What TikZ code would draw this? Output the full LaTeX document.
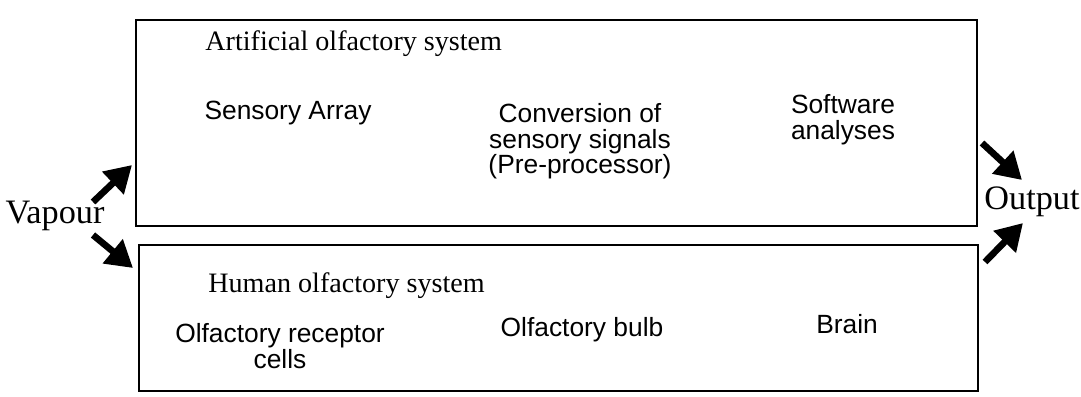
\documentclass[tikz,border=0pt]{standalone}
\usepackage{fontspec}
\setmainfont{Liberation Serif}
\newfontfamily\arialfont{Liberation Sans}
\usetikzlibrary{arrows.meta}

\begin{document}
\begin{tikzpicture}[x=0.02cm, y=-0.02cm,
    systitle/.style={anchor=base west, inner sep=0pt, font=\fontsize{16}{19}\selectfont},
    part/.style={anchor=north, inner sep=0pt, align=center, font=\arialfont\fontsize{15}{14.6}\selectfont},
    io/.style={inner sep=0pt, font=\fontsize{19.5}{22}\selectfont},
    sysbox/.style={draw, line width=1.3pt},
    fat/.style={line width=3.8pt, -{Triangle[length=15pt, width=17pt]}},
  ]
  \useasboundingbox (0,0) rectangle (1081,396);

  % the two systems
  \coordinate (artNW) at (136,20);
  \coordinate (artSE) at (977,226);
  \coordinate (humNW) at (139,245);
  \coordinate (humSE) at (978,391);
  \draw[sysbox] (artNW) rectangle (artSE);
  \draw[sysbox, line width=1.6pt] (humNW) rectangle (humSE);

  \node[systitle] (arttitle) at (205,50)  {Artificial olfactory system};
  \node[part] (sensor)  at (288,101) {Sensory Array};
  \node[part] (convert) at (580,103) {Conversion of\\sensory signals\\(Pre-processor)};
  \node[part] (soft)    at (843,94)  {Software\\analyses};

  \node[systitle] (humtitle) at (208,292) {Human olfactory system};
  \node[part] (receptor) at (280,323) {Olfactory receptor\\cells};
  \node[part] (bulb)     at (582,317) {Olfactory bulb};
  \node[part] (brain)    at (847,314) {Brain};

  \node[io] (vapour) at (55,216)   {Vapour};
  \node[io] (output) at (1032,202) {Output};

  % arrow ends
  \coordinate (vapA) at (93,202);
  \coordinate (artIn) at (132,165);
  \coordinate (vapB) at (93,235);
  \coordinate (humIn) at (133,268);
  \coordinate (artOut) at (982,143);
  \coordinate (outA) at (1022,180);
  \coordinate (humOut) at (985,262);
  \coordinate (outB) at (1023,223);

  \draw[fat] (vapA) -- (artIn);
  \draw[fat] (vapB) -- (humIn);
  \draw[fat] (artOut) -- (outA);
  \draw[fat] (humOut) -- (outB);

\end{tikzpicture}
\end{document}
